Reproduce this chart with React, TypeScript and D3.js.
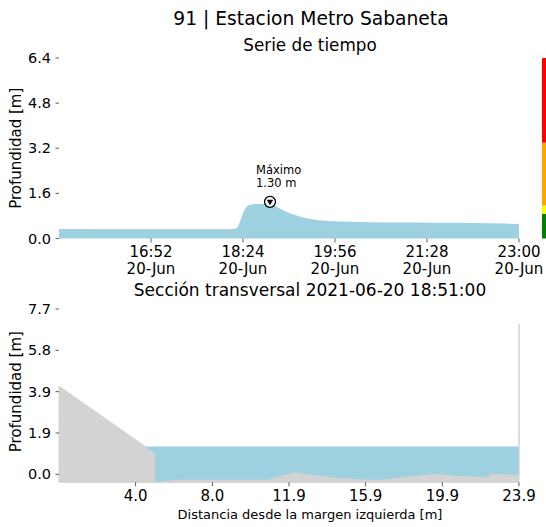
import React from "react";
import * as d3 from "d3";

const TIMES = [
  "15:20", "15:40", "16:00", "16:20", "16:40", "17:00", "17:20", "17:40", "18:00", "18:10", "18:16",
  "18:19", "18:22", "18:25", "18:28", "18:31", "18:36", "18:42", "18:48", "18:51", "18:54",
  "18:58", "19:03", "19:08", "19:14", "19:20", "19:26", "19:32", "19:40", "19:50", "20:00",
  "20:15", "20:30", "20:45", "21:00", "21:15", "21:30", "21:45", "22:00", "22:15", "22:30",
  "22:45", "23:00",
];
const DEPTHS = [
  0.34, 0.34, 0.33, 0.33, 0.33, 0.33, 0.33, 0.33, 0.33, 0.33, 0.35,
  0.42, 0.7, 0.98, 1.14, 1.2, 1.22, 1.22, 1.21, 1.3, 1.2,
  1.12, 1.02, 0.94, 0.86, 0.79, 0.73, 0.69, 0.65, 0.62, 0.6,
  0.59, 0.58, 0.57, 0.57, 0.57, 0.56, 0.56, 0.56, 0.55, 0.54,
  0.53, 0.51,
];
const TIME_TICKS = ["16:52", "18:24", "19:56", "21:28", "23:00"];
const TOP_Y_TICKS = [0, 1.6, 3.2, 4.8, 6.4];
const PEAK_TIME = "18:51";
const PEAK_VALUE = 1.3;

// Alert levels (colour bar)
const LEVEL_BOUNDS = [0, 0.88, 1.17, 3.4, 6.4];
const LEVEL_COLORS = ["#008000", "#ffff00", "#ffa500", "#ff0000"];

// Cross-section
const SECTION_X = [0, 4.42, 4.96, 4.97, 6.3, 10.85, 12.26, 13.9, 15.98, 16.7, 19.6, 20.8, 22.4, 22.41, 23.9, 23.9];
const SECTION_Y = [4.11, 1.33, 0.95, -0.37, -0.27, -0.27, 0.07, -0.14, -0.27, -0.27, 0.01, -0.11, -0.14, 0.01, -0.06, 7.0];
const WATER_LEVEL = 1.3;
const DIST_TICKS = [3.98, 7.97, 11.95, 15.93, 19.92, 23.9];
const BOT_Y_TICKS = [0, 1.925, 3.85, 5.775, 7.7];

const parseT = (s: string) => {
  const [h, m] = s.split(":").map(Number);
  return new Date(2021, 5, 20, h, m);
};

const FONT = "DejaVu Sans, sans-serif";

export default function App() {
  const xT = d3.scaleTime().domain([parseT("15:20"), parseT("23:00")]).range([59, 519]);
  const yT = d3.scaleLinear().domain([0, 6.4]).range([238.5, 58]);
  const xD = d3.scaleLinear().domain([0, 23.9]).range([59, 519]);
  const yD = d3.scaleLinear().domain([-0.37, 7.7]).range([482.3, 309]);

  const series = TIMES.map((t, i) => ({ t: parseT(t), v: DEPTHS[i] }));
  const areaTop = d3
    .area<{ t: Date; v: number }>()
    .x((d) => xT(d.t))
    .y0(yT(0))
    .y1((d) => yT(d.v));

  const ground = SECTION_X.map((x, i) => [x, SECTION_Y[i]] as [number, number]);
  const groundPath =
    d3.line<[number, number]>().x((d) => xD(d[0])).y((d) => yD(d[1]))([
      [0, -0.37],
      ...ground,
      [23.9, -0.37],
    ]) + "Z";
  const waterPath =
    d3.line<[number, number]>().x((d) => xD(d[0])).y((d) => yD(d[1]))([
      [4.42, WATER_LEVEL],
      [23.9, WATER_LEVEL],
      [23.9, -0.37],
      [4.42, -0.37],
    ]) + "Z";

  const px = xT(parseT(PEAK_TIME));
  const py = yT(PEAK_VALUE);
  const fmtTime = d3.timeFormat("%H:%M");

  return (
    <svg width={546} height={527} style={{ position: "absolute", left: 0, top: 0 }} fontFamily={FONT}>
      <rect width={546} height={527} fill="white" />
      <text x={311} y={25} textAnchor="middle" fontSize={18.7}>91 | Estacion Metro Sabaneta</text>
      <text x={310} y={51} textAnchor="middle" fontSize={16.8}>Serie de tiempo</text>

      {/* top chart */}
      <path d={areaTop(series) || ""} fill="#9dd1e0" />
      {TOP_Y_TICKS.map((v) => (
        <g key={v} transform={`translate(0,${yT(v)})`}>
          <line x1={55.5} x2={59} stroke="#333" strokeWidth={0.8} />
          <text x={51} dy="0.35em" textAnchor="end" fontSize={14.5}>{v.toFixed(1)}</text>
        </g>
      ))}
      {TIME_TICKS.map((t) => {
        const x = xT(parseT(t));
        return (
          <g key={t} transform={`translate(${x},0)`}>
            <line y1={238.5} y2={242.5} stroke="#333" strokeWidth={0.8} />
            <text y={257} textAnchor="middle" fontSize={15}>{fmtTime(parseT(t))}</text>
            <text y={274} textAnchor="middle" fontSize={15}>20-Jun</text>
          </g>
        );
      })}
      <text transform={`translate(21,${yT(3.2)}) rotate(-90)`} textAnchor="middle" fontSize={15}>Profundidad [m]</text>
      <text x={px - 14} y={174} fontSize={11.5}>Máximo</text>
      <text x={px - 14} y={187} fontSize={11.5}>{PEAK_VALUE.toFixed(2)} m</text>
      <circle cx={px} cy={py} r={5.5} fill="white" stroke="black" strokeWidth={1.3} />
      <path d={`M${px - 3.2},${py - 2.2} L${px + 3.2},${py - 2.2} L${px},${py + 3.3} Z`} fill="black" />

      {LEVEL_COLORS.map((c, i) => (
        <rect key={c} x={542} width={6} y={yT(LEVEL_BOUNDS[i + 1])} height={yT(LEVEL_BOUNDS[i]) - yT(LEVEL_BOUNDS[i + 1])} fill={c} />
      ))}

      {/* bottom chart */}
      <text x={310} y={296} textAnchor="middle" fontSize={17}>Sección transversal 2021-06-20 18:51:00</text>
      <path d={waterPath} fill="#9dd1e0" />
      <path d={groundPath} fill="#d3d3d3" stroke="#d3d3d3" strokeWidth={1} />
      {BOT_Y_TICKS.map((v) => (
        <g key={v} transform={`translate(0,${yD(v)})`}>
          <line x1={55.5} x2={59} stroke="#333" strokeWidth={0.8} />
          <text x={51} dy="0.35em" textAnchor="end" fontSize={14.5}>{v.toFixed(1)}</text>
        </g>
      ))}
      {DIST_TICKS.map((d) => (
        <g key={d} transform={`translate(${xD(d)},0)`}>
          <line y1={482.3} y2={486.3} stroke="#333" strokeWidth={0.8} />
          <text y={501} textAnchor="middle" fontSize={15}>{d.toFixed(1)}</text>
        </g>
      ))}
      <text transform={`translate(21,${yD(3.85)}) rotate(-90)`} textAnchor="middle" fontSize={15}>Profundidad [m]</text>
      <text x={310} y={519} textAnchor="middle" fontSize={13}>Distancia desde la margen izquierda [m]</text>
    </svg>
  );
}
